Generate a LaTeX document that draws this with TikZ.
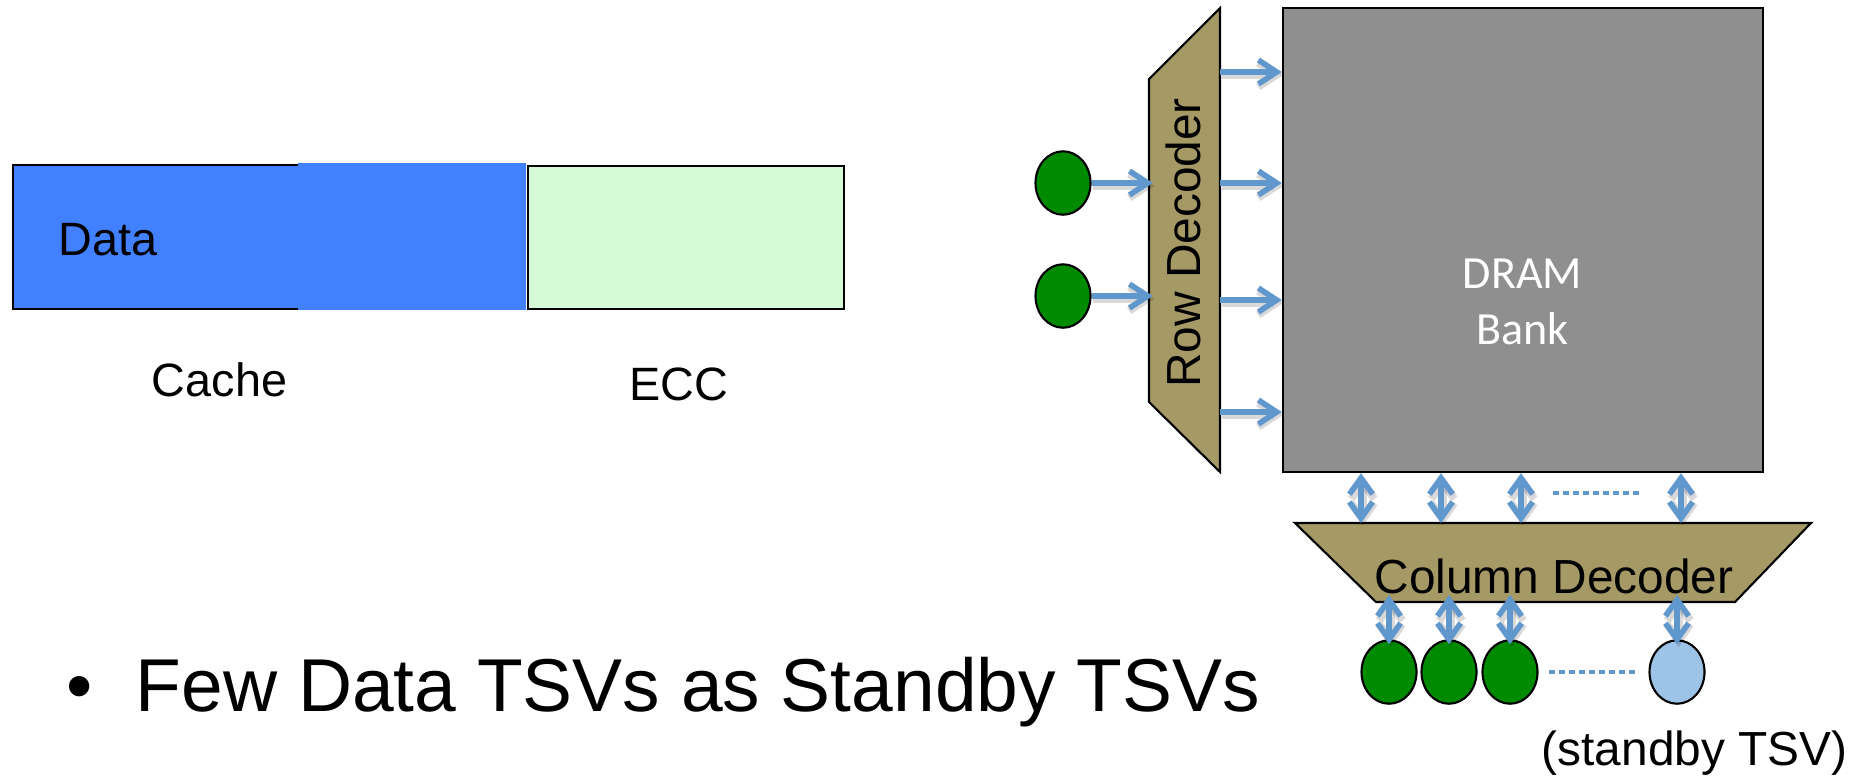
\documentclass[tikz,border=0pt]{standalone}
\usepackage{fontspec}
\setmainfont{Liberation Sans}
\newfontfamily\calfont{Carlito}
\usetikzlibrary{arrows.meta,shapes.geometric,calc}
\definecolor{datablue}{RGB}{65,128,255}
\definecolor{eccgreen}{RGB}{213,250,213}
\definecolor{bankgray}{RGB}{143,143,143}
\definecolor{khaki}{RGB}{165,154,102}
\definecolor{tsvgreen}{RGB}{0,138,0}
\definecolor{sparetsv}{RGB}{157,195,230}
\definecolor{linkblue}{RGB}{96,151,205}
\begin{document}
\begin{tikzpicture}[x=0.01cm,y=-0.01cm,
  outline/.style={draw=black,line width=0.6pt},
  box/.style={rectangle,outline,inner sep=0pt},
  tsv/.style={ellipse,draw=black,line width=0.6pt,fill=tsvgreen,minimum width=0.55cm,minimum height=0.634cm,inner sep=0pt},
  shade/.style={preaction={draw=black,draw opacity=0.15,line width=2.2pt,transform canvas={shift={(0.5pt,-0.8pt)}}}},
  link/.style={shade,draw=linkblue,line width=1.6pt,-{Straight Barb[length=5.2pt,width=6.8pt]}},
  dlink/.style={shade,draw=linkblue,line width=1.6pt,{Straight Barb[length=4.6pt,width=6.6pt]}-{Straight Barb[length=4.6pt,width=6.6pt]}},
  dots/.style={draw=linkblue,line width=1.4pt,dash pattern=on 1.7pt off 1.15pt},
  lbl/.style={font=\fontsize{13.3pt}{16pt}\selectfont,inner sep=0pt,anchor=base},
  declbl/.style={font=\fontsize{13.6pt}{16pt}\selectfont,inner sep=0pt,anchor=base},
]
\useasboundingbox (0,0) rectangle (1849,775);

% ---- left: cache line layout
\node[box,fill=datablue,minimum width=2.87cm,minimum height=1.44cm] (cachebox) at (156.5,237) {};
\node[rectangle,fill=datablue,inner sep=0pt,minimum width=2.28cm,minimum height=1.47cm] (spill) at (412,236.5) {};
\node[box,fill=eccgreen,minimum width=3.16cm,minimum height=1.43cm] (eccbox) at (686,237.5) {};
\node[lbl,anchor=base west] (datalbl) at (58,255) {Data};
\node[lbl] (cachelbl) at (219.5,396) {Cache};
\node[lbl] (ecclbl) at (678.5,400) {ECC};
\node[inner sep=0pt,anchor=base west,font=\fontsize{21.3pt}{25pt}\selectfont] (bullet) at (66,711) {•\hspace{12.2pt}Few Data TSVs as Standby TSVs};

% ---- right: DRAM bank
\node[box,fill=bankgray,minimum width=4.80cm,minimum height=4.64cm] (bank) at (1523,240) {};
\node[inner sep=0pt,anchor=base,align=center,text=white,font=\calfont\fontsize{13.1pt}{15.65pt}\selectfont] (banklbl) at (1522.5,344) {DRAM\\Bank};

% row decoder
\draw[outline,fill=khaki] (1149,79) coordinate (rdtl) -- (1220,8) coordinate (rdtr)
  -- (1220,472) coordinate (rdbr) -- (1149,402) coordinate (rdbl) -- cycle;
\node[declbl,rotate=90] (rdlbl) at (1200,243) {Row Decoder};

% column decoder
\draw[outline,fill=khaki] (1295,523) coordinate (cdtl) -- (1811,523) coordinate (cdtr)
  -- (1735,602) coordinate (cdbr) -- (1376,602) coordinate (cdbl) -- cycle;
\node[declbl] (cdlbl) at (1554,593) {Column Decoder};

% TSVs
\node[tsv] (r1) at (1063,183) {};
\node[tsv] (r2) at (1063,296) {};
\node[tsv] (c1) at (1389,672) {};
\node[tsv] (c2) at (1449,672) {};
\node[tsv] (c3) at (1510,672) {};
\node[tsv,fill=sparetsv] (cs) at (1677,672) {};
\node[declbl] (standbylbl) at (1694.5,765) {(standby TSV)};

% row decoder arrows
\foreach \yy in {72,183,300,412}
  \draw[link] (rdtr |- 0,\yy) -- (bank.west |- 0,\yy);
\draw[link,shorten >=-1.1pt] (r1.east) -- (r1.east -| rdtl);
\draw[link,shorten >=-1.1pt] (r2.east) -- (r2.east -| rdtl);

% bank <-> column decoder
\foreach \xx in {1361,1441,1521,1681}
  \draw[dlink] (bank.south -| \xx,0) -- (cdtl -| \xx,0);
\coordinate (du1) at (1553,493);
\coordinate (du2) at (1643,493);
\draw[dots] (du1) -- (du2);

% column decoder <-> TSVs
\foreach \n in {c1,c2,c3,cs}
  \draw[dlink] ($(\n.north)+(0,5)$) -- ($(\n.north |- cdbl)+(0,-7)$);
\draw[dots,shorten <=3pt,shorten >=3.2pt] (c3.east) -- (cs.west);
\end{tikzpicture}
\end{document}
